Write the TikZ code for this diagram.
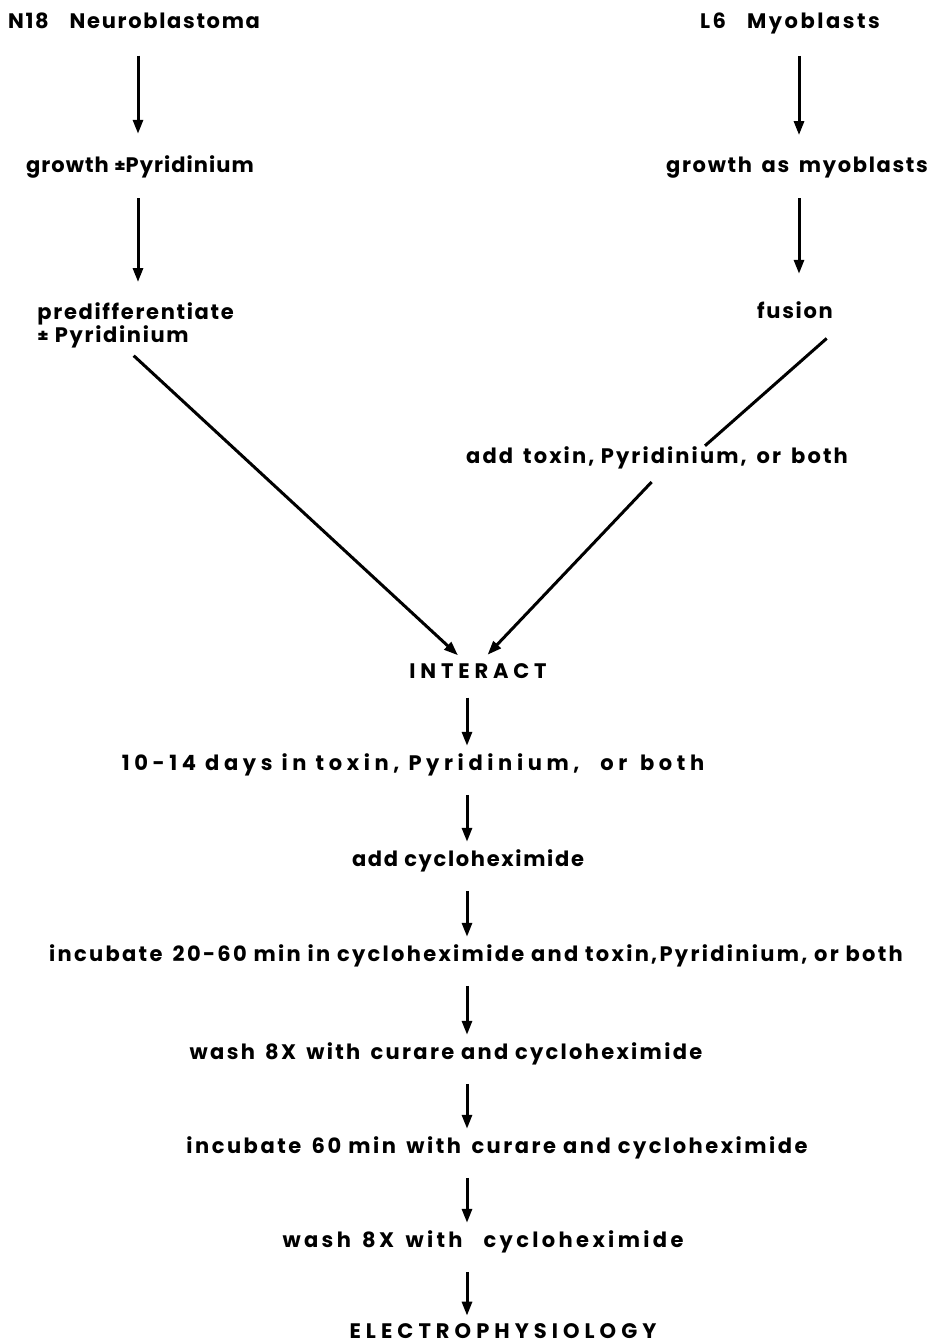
\documentclass[tikz,border=0pt]{standalone}
\usepackage{fontspec}
\setmainfont{Poppins}
\usetikzlibrary{arrows.meta}
\tikzset{
  lbl/.style={font=\bfseries\fontsize{10.5}{12.5}\selectfont\addfontfeatures{LetterSpace=#1}, inner sep=0pt, anchor=base},
  lbl/.default=8,
  arr/.style={line width=1.5pt, -{Triangle[length=7pt,width=5pt]}}
}

\begin{document}
\begin{tikzpicture}[x=0.5pt,y=-0.5pt]
\useasboundingbox (0,0) rectangle (928,1344);
\coordinate (lc) at (138,0);
\coordinate (rc) at (799,0);
\coordinate (mc) at (467,0);
% two starting branches
\node[lbl] (nb) at (134,28) {N18\quad Neuroblastoma};
\node[lbl=5] (gp) at (140,172) {growth {\small ±}Pyridinium};
\node[lbl, anchor=north west, align=left] (pd) at (37,302) {predifferentiate\\[-1pt]{\small ±} Pyridinium};
\node[lbl=12] (lm) at (790,28) {L6\quad Myoblasts};
\node[lbl] (gm) at (797,172) {growth\, as\, myoblasts};
\node[lbl] (fu) at (795,318) {fusion};
\node[lbl=10] (ad) at (657,463) {add\, toxin, Pyridinium,\, or\, both};
\foreach \a/\b/\c/\s/\e in {nb/gp/lc/13.5/10.5, gp/pd/lc/10/10, lm/gm/rc/11/10.5, gm/fu/rc/10/13.5}{
\draw[arr, shorten <=\s pt, shorten >=\e pt] (\a.south -| \c) -- (\b.north -| \c);
}
\draw[line width=1.5pt, shorten <=15pt] ([xshift=8pt]fu.south east) -- ([xshift=24pt]ad.north);
% main column
\foreach \n/\x/\y/\l/\t in {it/478/678/23/{INTERACT}, dy/413/770/22/{10-14 days in toxin, Pyridinium,\quad or\, both},
  ac/468/866/8/{add cycloheximide}, i1/476/961/11/{incubate\, 20-60 min in cycloheximide and toxin,Pyridinium, or both},
  w1/446/1059/11/{wash\, 8X\, with\, curare and cycloheximide}, i2/497/1153/12/{incubate\, 60 min\, with\, curare and cycloheximide},
  w2/483/1247/16/{wash\, 8X\, with\quad cycloheximide}, ep/503/1338/24/{ELECTROPHYSIOLOGY}}{
\node[lbl=\l] (\n) at (\x,\y) {\t};
}
\draw[arr, shorten <=5.5pt, shorten >=5.5pt] ([xshift=-5pt]pd.south) -- ([xshift=-6pt]it.north);
\draw[arr, shorten <=9pt, shorten >=5.5pt] ([xshift=3.5pt]ad.south) -- ([xshift=1pt]it.north);
\foreach \a/\b in {it/dy, dy/ac, ac/i1, i1/w1, w1/i2, i2/w2, w2/ep}{
\draw[arr, shorten <=9.5pt, shorten >=3.5pt] (\a.south -| mc) -- (\b.north -| mc);
}
\end{tikzpicture}
\end{document}
